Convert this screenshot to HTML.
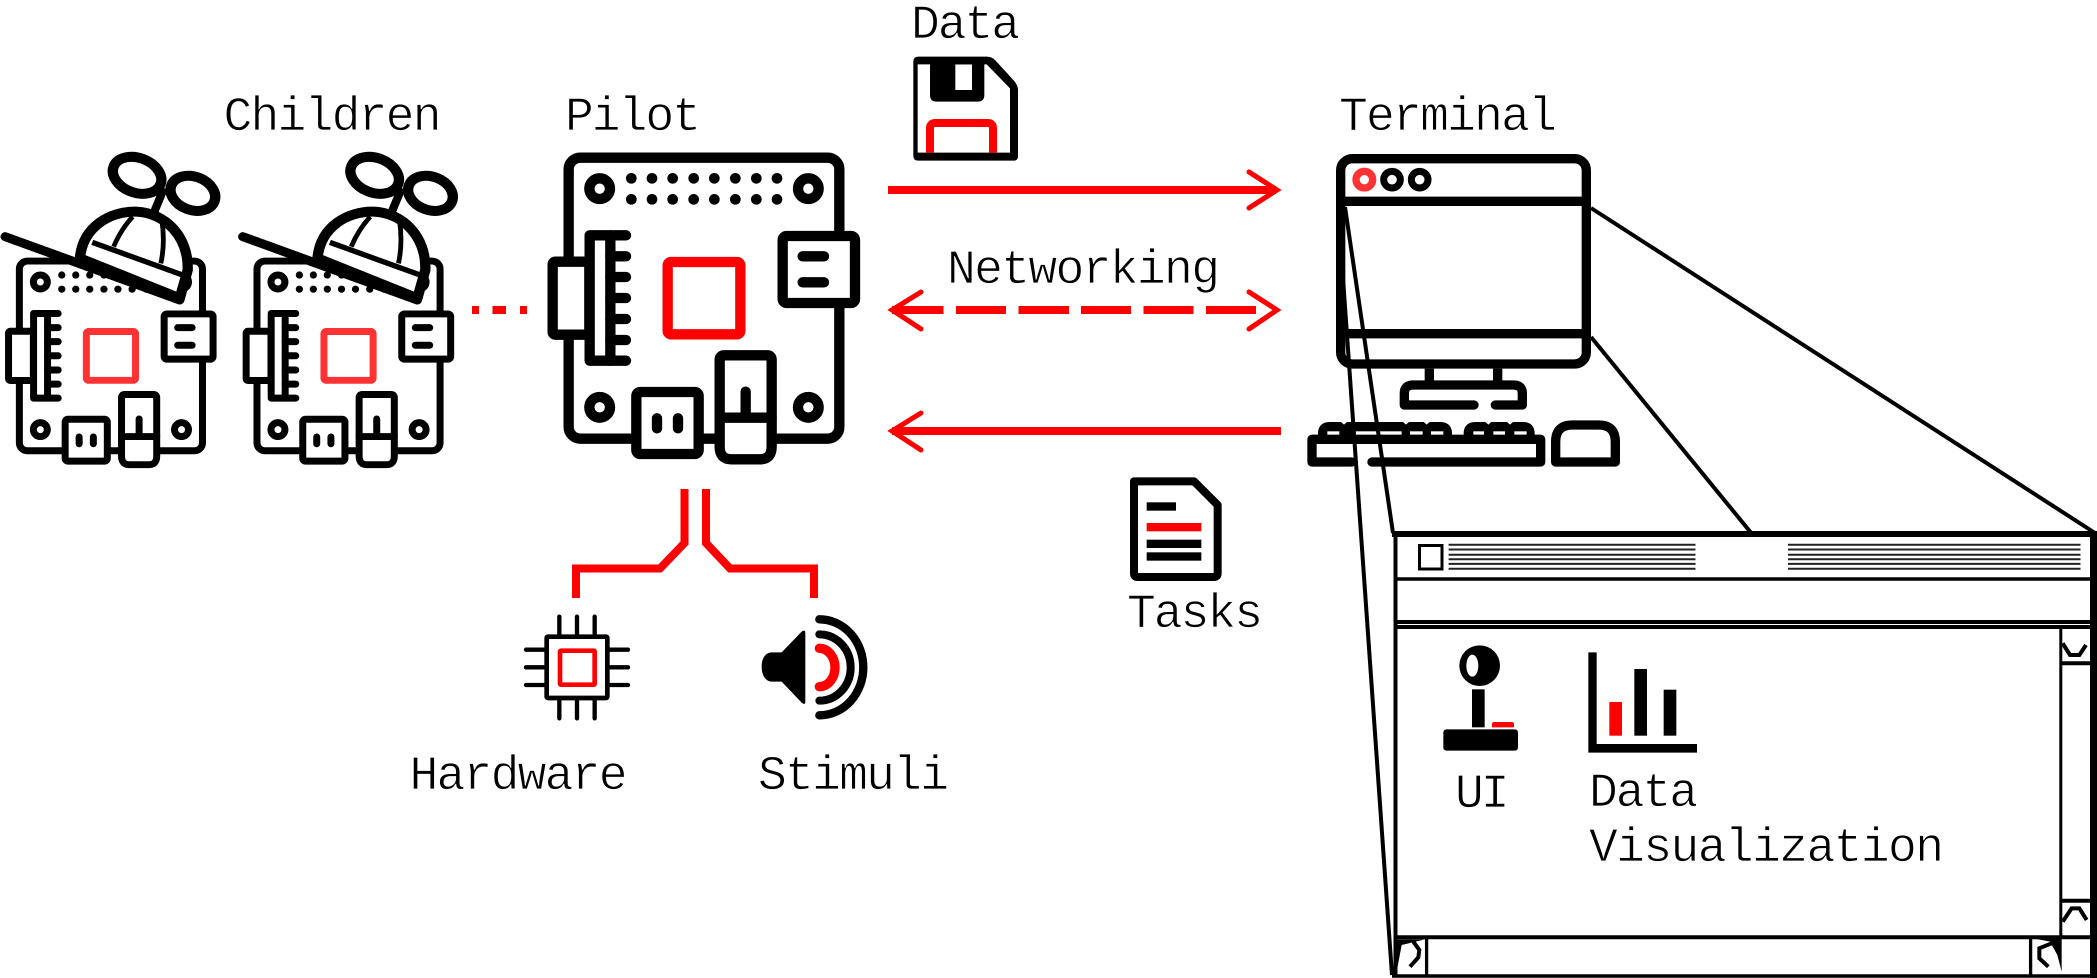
<!DOCTYPE html>
<html>
<head>
<meta charset="utf-8">
<style>
html,body{margin:0;padding:0;background:#fff;}
svg{display:block;}
text{font-family:"Liberation Mono","DejaVu Sans Mono",monospace;font-size:48px;fill:#000;stroke:#fff;stroke-width:.8px;paint-order:fill stroke;}
</style>
</head>
<body>
<svg width="2097" height="978" viewBox="0 0 2097 978" xmlns="http://www.w3.org/2000/svg">
<defs>
<g id="board" fill="#fff" stroke="#000" stroke-width="31" stroke-linecap="round" stroke-linejoin="round">
  <rect x="116" y="83" width="812" height="843" rx="35"/>
  <g fill="#fff">
    <circle cx="209" cy="176" r="31"/><circle cx="835" cy="176" r="31"/>
    <circle cx="209" cy="832" r="31"/><circle cx="835" cy="832" r="31"/>
  </g>
  <g fill="#000" stroke="none">
    <circle cx="304" cy="145" r="16"/><circle cx="366" cy="145" r="16"/><circle cx="428" cy="145" r="16"/><circle cx="491" cy="145" r="16"/><circle cx="553" cy="145" r="16"/><circle cx="616" cy="145" r="16"/><circle cx="679" cy="145" r="16"/><circle cx="741" cy="145" r="16"/>
    <circle cx="304" cy="208" r="16"/><circle cx="366" cy="208" r="16"/><circle cx="428" cy="208" r="16"/><circle cx="491" cy="208" r="16"/><circle cx="553" cy="208" r="16"/><circle cx="616" cy="208" r="16"/><circle cx="679" cy="208" r="16"/><circle cx="741" cy="208" r="16"/>
  </g>
  <rect x="68" y="395" width="110" height="219" rx="8"/>
  <rect x="179" y="316" width="62" height="376"/>
  <path d="M241 316H288M241 379H288M241 441H288M241 504H288M241 567H288M241 630H288M241 692H288" fill="none"/>
  <rect x="758" y="318" width="217" height="201" rx="12"/>
  <path d="M818 379H882M818 457H882" fill="none"/>
  <rect x="319" y="786" width="187" height="186" rx="12"/>
  <path d="M381 865V895M444 865V895" fill="none"/>
  <path d="M569 690Q569 676 583 676H711Q725 676 725 690V950Q725 988 690 988H604Q569 988 569 950Z"/>
  <path d="M569 863H725M647 785V863" fill="none"/>
  <rect x="413" y="396" width="218" height="217" rx="10" fill="#fff" stroke="currentColor"/>
</g>
<g id="hat" stroke="#000" stroke-linecap="round" stroke-linejoin="round" fill="none">
  <path d="M232 535C240 440 320 393 395 395C480 398 548 470 545 570L522 655Z" fill="#fff" stroke-width="30"/>
  <path d="M15 470L522 660" stroke-width="27"/>
  <path d="M268 487L535 587" stroke-width="16" stroke-linecap="butt"/>
  <path d="M330 500Q350 450 385 410M467 550Q480 490 470 420" stroke-width="14" stroke-linecap="butt"/>
  <path d="M450 390L472 335" stroke-width="24"/>
  <ellipse cx="398" cy="286" rx="73" ry="52" transform="rotate(22 398 286)" stroke-width="30" fill="#fff"/>
  <ellipse cx="560" cy="340" rx="67" ry="50" transform="rotate(22 560 340)" stroke-width="30" fill="#fff"/>
</g>
</defs>

<!-- children -->
<g color="#ff3333">
  <use href="#board" transform="translate(-6.78,242.4) scale(.2255,.225)"/>
  <use href="#board" transform="translate(230.82,242.4) scale(.2255,.225)"/>
</g>
<use href="#hat" transform="translate(0,80) scale(.3444,.33333)"/>
<use href="#hat" transform="translate(237.6,80) scale(.3444,.33333)"/>
<path d="M472 310H479M492.5 310H506M520 310H527" stroke="#f00" stroke-width="8" fill="none"/>

<!-- pilot -->
<use href="#board" color="#ff0000" transform="translate(530,130) scale(.33333)"/>

<!-- connectors to hardware and stimuli -->
<g stroke="#f00" stroke-width="8" fill="none" stroke-linejoin="miter">
  <path d="M684.5 489V543L660 568.5H576V598"/>
  <path d="M706 489V543L730 568.5H814V598"/>
</g>

<!-- chip -->
<g transform="translate(500,480) scale(.33333)" fill="none">
  <path d="M178 410V470M231 410V470M284 410V470M178 654V715M231 654V715M284 654V715M78 509H140M78 562H140M78 615H140M322 509H384M322 562H384M322 615H384" stroke="#000" stroke-width="13" stroke-linecap="round"/>
  <rect x="140" y="470" width="182" height="184" rx="4" stroke="#000" stroke-width="14" stroke-linejoin="round"/>
  <rect x="180" y="512" width="104" height="102" rx="3" stroke="#f00" stroke-width="14" stroke-linejoin="round"/>
</g>

<!-- speaker -->
<g transform="translate(500,480) scale(.33333)">
  <path d="M785 560C785 530 800 517 815 517H845L905 455Q916 447 916 460V665Q916 677 905 668L845 605H815C800 605 785 590 785 560Z" fill="#000"/>
  <g fill="none" stroke-linecap="round">
    <path d="M958 505A47 57.5 0 0 1 958 620" stroke="#f00" stroke-width="28"/>
    <path d="M958 463A94 99.5 0 0 1 958 662" stroke="#000" stroke-width="24"/>
    <path d="M958 418A132 144 0 0 1 958 706" stroke="#000" stroke-width="25"/>
  </g>
</g>

<!-- floppy -->
<g transform="translate(880,0) scale(.33333)">
  <path fill-rule="evenodd" d="M115 170H320Q335 170 345 180L400 240Q414 255 414 270V468Q414 482 400 482H115Q100 482 100 468V185Q100 170 115 170ZM113 193V458H390V265L320 193Z" fill="#000"/>
  <path fill-rule="evenodd" d="M150 185H313V285Q313 305 293 305H170Q150 305 150 285ZM226 193V270H276V193Z" fill="#000"/>
  <path d="M150 458V385Q150 369 166 369H323Q339 369 339 385V458" fill="none" stroke="#f00" stroke-width="24"/>
</g>

<!-- arrows -->
<g stroke="#f00" fill="none">
  <path d="M888 190H1276" stroke-width="8"/>
  <path d="M1249 172L1277 190L1249 208" stroke-width="5" stroke-linecap="round" stroke-linejoin="miter"/>
  <path d="M892 310H943.5M956 310H1006M1018.5 310H1069M1081 310H1131M1143.5 310H1193.5M1206 310H1256" stroke-width="8"/>
  <path d="M921 292L892 310L921 329" stroke-width="5" stroke-linecap="round"/>
  <path d="M1249 292L1277 310L1249 329" stroke-width="5" stroke-linecap="round"/>
  <path d="M892 431H1281" stroke-width="8"/>
  <path d="M921 413L892 431L921 450" stroke-width="5" stroke-linecap="round"/>
</g>

<!-- tasks document -->
<g transform="translate(1120,460) scale(.33333)">
  <path d="M42 64H222L293 135V340Q293 351 282 351H53Q42 351 42 340Z" fill="#fff" stroke="#000" stroke-width="24" stroke-linejoin="round"/>
  <rect x="80" y="127" width="88" height="25" fill="#000"/>
  <rect x="80" y="189" width="164" height="25" fill="#f00"/>
  <rect x="80" y="239" width="164" height="25" fill="#000"/>
  <rect x="80" y="277" width="164" height="25" fill="#000"/>
</g>

<!-- terminal -->
<g transform="translate(1300,140) scale(.33333)" fill="none" stroke="#000" stroke-width="28" stroke-linecap="round" stroke-linejoin="round">
  <rect x="122" y="56" width="737" height="616" rx="35" fill="#fff"/>
  <path d="M122 184H859M122 581H859" stroke-linecap="butt"/>
  <circle cx="193" cy="119" r="25" stroke="#ff3333" stroke-width="22"/>
  <circle cx="276" cy="119" r="25" stroke-width="21"/>
  <circle cx="359" cy="119" r="25" stroke-width="21"/>
  <path d="M388 686V735M593 686V735" stroke-linecap="butt"/>
  <path d="M522 795H313V760Q313 735 340 735H640Q667 735 667 760V795H586"/>
  <path d="M68 898V880Q68 860 88 860H422Q442 860 442 880V898H68Z" fill="#000"/>
  <path d="M505 898V880Q505 860 525 860H670Q690 860 690 880V898H505Z" fill="#000"/>
  <g fill="#fff" stroke="none">
    <rect x="82" y="874" width="36" height="11"/><rect x="160" y="874" width="145" height="11"/><rect x="330" y="874" width="38" height="11"/><rect x="393" y="874" width="37" height="11"/>
    <rect x="520" y="874" width="32" height="11"/><rect x="580" y="874" width="35" height="11"/><rect x="643" y="874" width="37" height="11"/>
    <path d="M122 845H142L132 854ZM308 845H328L318 854ZM370 845H390L380 854ZM555 845H575L565 854ZM620 845H640L630 854Z"/>
  </g>
  <path d="M155 966H36V898H722V966H216"/>
  <path d="M767 966H946V905Q946 855 896 855H817Q767 855 767 905Z"/>
</g>

<!-- projection lines -->
<g stroke="#000" stroke-width="4" fill="none">
  <path d="M1345 207L1393 533"/>
  <path d="M1338 207L1392 975"/>
  <path d="M1591 208L2095 533"/>
  <path d="M1591 337L1752 534"/>
</g>

<!-- window -->
<g>
  <rect x="1395.5" y="534" width="698" height="441" fill="#fff"/>
  <path d="M1392 534H2097" stroke="#000" stroke-width="6"/>
  <path d="M1395.5 531V977" stroke="#000" stroke-width="4"/>
  <path d="M2093.5 531V978" stroke="#000" stroke-width="7"/>
  <path d="M1392 976H2097" stroke="#000" stroke-width="3.5"/>
  <path d="M1395 579H2091" stroke="#000" stroke-width="3.5"/>
  <path d="M1395 622H2091" stroke="#000" stroke-width="4"/>
  <path d="M1395 627H2091" stroke="#000" stroke-width="4"/>
  <rect x="1419.5" y="545.5" width="22.5" height="23.5" fill="#fff" stroke="#000" stroke-width="3"/>
  <g stroke="#222" stroke-width="2" fill="none">
    <path d="M1448.6 544.7H1695.5M1448.6 549.5H1695.5M1448.6 554.7H1695.5M1448.6 559.3H1695.5M1448.6 563.9H1695.5M1448.6 568.7H1695.5"/>
    <path d="M1788 544.7H2080.5M1788 549.5H2080.5M1788 554.7H2080.5M1788 559.3H2080.5M1788 563.9H2080.5M1788 568.7H2080.5"/>
  </g>
  <!-- scrollbar -->
  <path d="M2060.8 629V936" stroke="#000" stroke-width="3"/>
  <path d="M2062 663.2H2091M2062 900.8H2091M1395 937.2H2091" stroke="#000" stroke-width="4"/>
  <path d="M2030.6 939V975" stroke="#000" stroke-width="3.3"/>
  <path d="M1426.6 939V975" stroke="#000" stroke-width="3.3"/>
  <g transform="translate(1980,600) scale(.33333)">
    <path d="M248 130L270 165H298L318 135" fill="none" stroke="#000" stroke-width="12"/>
    <path d="M248 965L275 925H298L320 960" fill="none" stroke="#000" stroke-width="12"/>
    <path d="M160 1015L245 1010V1115L232 1065L210 1025Z" fill="#000"/>
    <path d="M215 1030L178 1045V1075L205 1100" fill="none" stroke="#000" stroke-width="12"/>
  </g>
  <g transform="translate(1380,900) scale(.33333)">
    <path d="M48 118H135L65 135L50 215Z" fill="#000"/>
    <path d="M100 125L118 150L115 172L90 200" fill="none" stroke="#000" stroke-width="12"/>
  </g>
  <!-- joystick and chart -->
  <g transform="translate(1420,630) scale(.33333)">
    <circle cx="179" cy="107" r="61" fill="#000"/>
    <ellipse cx="157" cy="107" rx="18" ry="33" fill="#fff"/>
    <rect x="156" y="178" width="38" height="114" fill="#000"/>
    <rect x="70" y="298" width="224" height="64" rx="9" fill="#000"/>
    <path d="M216 292V282Q216 276 222 276H276Q282 276 282 282V292Z" fill="#f00"/>
    <path d="M505 67H530V342H831V368H505Z" fill="#000"/>
    <rect x="568" y="216" width="38" height="101" fill="#f00"/>
    <rect x="643" y="117" width="38" height="200" fill="#000"/>
    <rect x="731" y="179" width="38" height="138" fill="#000"/>
  </g>
</g>

<!-- labels -->
<text x="911" y="38" textLength="109">Data</text>
<text x="223.5" y="130" textLength="218">Children</text>
<text x="565" y="130" textLength="136">Pilot</text>
<text x="1339" y="130" textLength="218">Terminal</text>
<text x="947" y="283" textLength="273">Networking</text>
<text x="1127" y="627" textLength="136">Tasks</text>
<text x="409.5" y="789" textLength="218">Hardware</text>
<text x="758" y="789" textLength="191">Stimuli</text>
<text x="1455" y="807" textLength="54.6">UI</text>
<text x="1589" y="806" textLength="109">Data</text>
<text x="1589" y="861" textLength="355">Visualization</text>
</svg>
</body>
</html>
